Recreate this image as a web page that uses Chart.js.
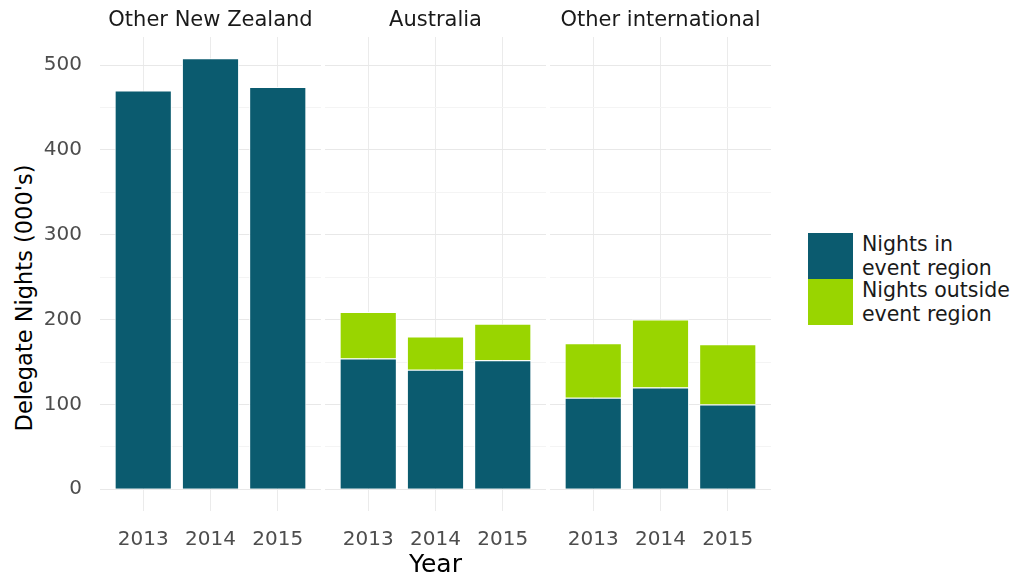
<!DOCTYPE html>
<html>
<head>
<meta charset="utf-8">
<script src="https://cdn.jsdelivr.net/npm/chart.js@4.4.1/dist/chart.umd.min.js"></script>
<style>
  html, body { margin: 0; padding: 0; background: #ffffff; }
  #wrap { position: relative; width: 1018px; height: 580px; overflow: hidden; font-family: "DejaVu Sans", Verdana, sans-serif; }
  #wrap canvas { position: absolute; top: 0; }
  #ytitle { position: absolute; left: 24px; top: 298px; transform: translate(-50%, -50%) rotate(-90deg); white-space: nowrap; font-size: 22.5px; color: #000; }
  .strip { position: absolute; top: 18.5px; transform: translate(-50%, -50%); white-space: nowrap; font-size: 21px; line-height: 25px; color: #1a1a1a; }
  #legend { position: absolute; left: 808px; top: 233px; }
  .item { display: flex; align-items: flex-start; }
  .sw { width: 45px; height: 46px; flex: none; }
  .lab { margin-left: 9px; font-size: 20.5px; line-height: 23.5px; color: #1a1a1a; height: 46px; }
</style>
</head>
<body>
<div id="wrap">
  <div id="ytitle">Delegate Nights (000's)</div>
  <div id="legend"></div>
</div>
<script>
// ---- data ----
const panelNames = ["Other New Zealand", "Australia", "Other international"];
const years = [2013, 2014, 2015];
const seriesNames = [["Nights in", "event region"], ["Nights outside", "event region"]];
const seriesColors = ["#0b5b6f", "#99d500"];

const inRegionOtherNZ = [470, 508, 474];
const outsideOtherNZ = [null, null, null];
const inRegionAustralia = [154, 141, 152];
const outsideAustralia = [55, 39, 43];
const inRegionOtherIntl = [108, 120, 100];
const outsideOtherIntl = [64, 80, 71];

const yTickValues = [0, 100, 200, 300, 400, 500];

const inRegion = [inRegionOtherNZ, inRegionAustralia, inRegionOtherIntl];
const outside = [outsideOtherNZ, outsideAustralia, outsideOtherIntl];

// ---- layout (positions/sizes) ----
const canvasLeft = [0, 325, 550];
const canvasWidth = [321, 221, 221];
const yAxisWidth = [100, 0, 0];
const FONT = "DejaVu Sans";

// legend (HTML)
const legend = document.getElementById('legend');
seriesNames.forEach((lines, k) => {
  const it = document.createElement('div'); it.className = 'item';
  const sw = document.createElement('div'); sw.className = 'sw'; sw.style.background = seriesColors[k];
  const lab = document.createElement('div'); lab.className = 'lab';
  lines.forEach((ln, j) => { if (j) lab.appendChild(document.createElement('br')); lab.appendChild(document.createTextNode(ln)); });
  it.appendChild(sw); it.appendChild(lab); legend.appendChild(it);
});

const wrap = document.getElementById('wrap');
panelNames.forEach((name, i) => {
  const cv = document.createElement('canvas');
  cv.width = canvasWidth[i]; cv.height = 580;
  cv.style.left = canvasLeft[i] + 'px';
  cv.style.width = canvasWidth[i] + 'px'; cv.style.height = '580px';
  wrap.appendChild(cv);

  // facet strip label, centred over the panel's plotting area
  const st = document.createElement('div'); st.className = 'strip';
  st.textContent = name;
  st.style.left = (canvasLeft[i] + yAxisWidth[i] + (canvasWidth[i] - yAxisWidth[i]) / 2) + 'px';
  wrap.appendChild(st);

  const mk = (arr) => years.map((yr, k) => ({ x: yr, y: arr[k] }));
  new Chart(cv, {
    type: 'bar',
    data: {
      datasets: [
        { label: seriesNames[0].join(' '), data: mk(inRegion[i]), backgroundColor: seriesColors[0], borderColor: '#ffffff', borderWidth: 1, borderSkipped: 'bottom' },
        { label: seriesNames[1].join(' '), data: mk(outside[i]), backgroundColor: seriesColors[1], borderColor: '#ffffff', borderWidth: 1, borderSkipped: 'bottom' }
      ]
    },
    options: {
      responsive: false,
      animation: false,
      devicePixelRatio: 1,
      layout: { padding: { top: 37, left: 0, right: 0, bottom: 0 } },
      datasets: { bar: { barPercentage: 0.85, categoryPercentage: 1 } },
      plugins: {
        legend: { display: false },
        tooltip: { enabled: false },
        title: { display: false }
      },
      scales: {
        x: {
          type: 'linear', stacked: true, offset: false,
          min: years[0] - 0.643, max: years[years.length - 1] + 0.643,
          afterFit: (s) => { s.height = 69.5; },
          border: { display: false },
          grid: { offset: false, drawTicks: false, color: '#ebebeb', lineWidth: 1 },
          ticks: { stepSize: 1, includeBounds: false, padding: 17.5, color: '#4d4d4d', font: { family: FONT, size: 20 }, callback: (v) => (years.includes(v) ? String(v) : '') },
          title: { display: i === 1, text: 'Year', color: '#000', font: { family: FONT, size: 25 }, padding: { top: 0, bottom: 0 } }
        },
        y: {
          stacked: true, min: -25, max: 533,
          afterFit: (s) => { s.width = yAxisWidth[i]; },
          border: { display: false },
          grid: { drawTicks: false, lineWidth: 1, color: (c) => (yTickValues.includes(c.tick.value) ? '#e8e8e8' : '#f4f4f4') },
          ticks: { display: i === 0, stepSize: 50, includeBounds: false, padding: 18, color: '#4d4d4d', font: { family: FONT, size: 20 }, callback: (v) => (yTickValues.includes(v) ? String(v) : '') }
        }
      }
    }
  });
});
</script>
</body>
</html>
